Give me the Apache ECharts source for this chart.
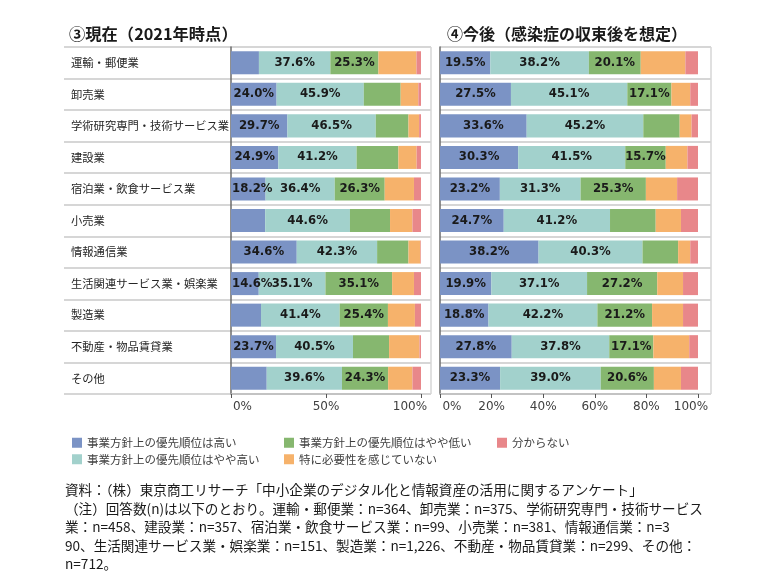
<!DOCTYPE html>
<html>
<head>
<meta charset="utf-8">
<script src="https://cdn.jsdelivr.net/npm/echarts@6/dist/echarts.min.js"></script>
<style>
html,body{margin:0;padding:0;background:#fff;}
#chart{width:768px;height:583px;}
</style>
</head>
<body>
<div id="chart"></div>
<script>
// ---- data ----
const categories = ['運輸・郵便業','卸売業','学術研究専門・技術サービス業','建設業','宿泊業・飲食サービス業','小売業','情報通信業','生活関連サービス業・娯楽業','製造業','不動産・物品賃貸業','その他'];
const seriesNames = ['事業方針上の優先順位は高い','事業方針上の優先順位はやや高い','事業方針上の優先順位はやや低い','特に必要性を感じていない','分からない'];
const titleNow = '③現在（2021年時点）';
const titleFuture = '④今後（感染症の収束後を想定）';
const ticksNow = [0, 50, 100];
const ticksFuture = [0, 20, 40, 60, 80, 100];

const nowHigh     = [14.7,24.0,29.7,24.9,18.2,18.0,34.6,14.6,15.8,23.7,18.8];
const nowMidHigh  = [37.6,45.9,46.5,41.2,36.4,44.6,42.3,35.1,41.4,40.5,39.6];
const nowMidLow   = [25.3,19.4,17.2,22.0,26.3,21.1,16.5,35.1,25.4,19.0,24.3];
const nowNoNeed   = [20.0,9.3,5.6,9.6,15.4,11.8,6.3,11.5,14.2,16.0,12.8];
const nowUnknown  = [2.4,1.4,1.0,2.3,3.7,4.5,0.3,3.7,3.2,0.8,4.5];

const futureHigh    = [19.5,27.5,33.6,30.3,23.2,24.7,38.2,19.9,18.8,27.8,23.3];
const futureMidHigh = [38.2,45.1,45.2,41.5,31.3,41.2,40.3,37.1,42.2,37.8,39.0];
const futureMidLow  = [20.1,17.1,14.1,15.7,25.3,17.7,13.8,27.2,21.2,17.1,20.6];
const futureNoNeed  = [17.3,7.3,4.6,8.4,12.1,9.8,4.7,10.0,12.0,13.9,10.5];
const futureUnknown = [4.9,3.0,2.5,4.1,8.1,6.6,3.0,5.8,5.8,3.4,6.6];

// which segments carry a value label in the source
const nowLabelHigh      = [0,1,1,1,1,0,1,1,0,1,0];
const nowLabelMidHigh   = [1,1,1,1,1,1,1,1,1,1,1];
const nowLabelMidLow    = [1,0,0,0,1,0,0,1,1,0,1];
const futureLabelHigh   = [1,1,1,1,1,1,1,1,1,1,1];
const futureLabelMidHigh= [1,1,1,1,1,1,1,1,1,1,1];
const futureLabelMidLow = [1,1,0,1,1,0,0,1,1,1,1];
const noLabels          = [0,0,0,0,0,0,0,0,0,0,0];

const footnoteLines = [
  '資料：（株）東京商工リサーチ「中小企業のデジタル化と情報資産の活用に関するアンケート」',
  '（注）回答数(n)は以下のとおり。運輸・郵便業：n=364、卸売業：n=375、学術研究専門・技術サービス',
  '業：n=458、建設業：n=357、宿泊業・飲食サービス業：n=99、小売業：n=381、情報通信業：n=3',
  '90、生活関連サービス業・娯楽業：n=151、製造業：n=1,226、不動産・物品賃貸業：n=299、その他：',
  'n=712。'
];

// ---- styling ----
const colors = ['#7b93c5','#a2d1cc','#86b76f','#f6b26b','#e8878a'];
const CJK = '"Noto Sans CJK JP", "Noto Sans", sans-serif';
const NUM = '"DejaVu Sans", Verdana, sans-serif';
const gridLine = '#d6d6d6';
const TOP = 47, BOTTOM = 583 - 394;

const chart = echarts.init(document.getElementById('chart'));

// pxPerUnit: used only to decide whether a first-segment label would spill past the axis
function mkData(vals, flags, first, pxPerUnit) {
  return vals.map((v, i) => {
    const narrow = first && v * pxPerUnit < 44;
    return {
      value: v,
      label: { show: !!flags[i], position: narrow ? 'insideLeft' : 'inside', distance: 1 }
    };
  });
}

const nowSets = [
  [nowHigh, nowLabelHigh], [nowMidHigh, nowLabelMidHigh], [nowMidLow, nowLabelMidLow],
  [nowNoNeed, noLabels], [nowUnknown, noLabels]
];
const futureSets = [
  [futureHigh, futureLabelHigh], [futureMidHigh, futureLabelMidHigh], [futureMidLow, futureLabelMidLow],
  [futureNoNeed, noLabels], [futureUnknown, noLabels]
];

function mkSeries(sets, axisIdx, stackName, pxPerUnit) {
  return sets.map((s, k) => ({
    name: seriesNames[k],
    type: 'bar',
    stack: stackName,
    xAxisIndex: axisIdx,
    yAxisIndex: axisIdx,
    barCategoryGap: '27%',
    itemStyle: { color: colors[k] },
    label: {
      position: 'inside',
      formatter: p => p.value.toFixed(1) + '%',
      color: '#1a1a1a',
      fontFamily: NUM,
      fontWeight: 'bold',
      fontSize: 11.7
    },
    emphasis: { disabled: true },
    data: mkData(s[0], s[1], k === 0, pxPerUnit)
  }));
}

const frameX = (gi) => ({
  gridIndex: gi, type: 'value', min: 0, max: 1, interval: 1,
  axisLine: { show: false }, axisTick: { show: false }, axisLabel: { show: false },
  splitLine: { show: true, showMinLine: false, lineStyle: { color: gridLine, width: 1.5 } }
});
const frameY = (gi, showLabels) => ({
  gridIndex: gi, type: 'category', data: categories, inverse: true,
  axisLine: { show: false }, axisTick: { show: false },
  axisLabel: { show: showLabels, inside: true, margin: 7, color: '#262626', fontFamily: CJK, fontSize: 11.3 },
  splitLine: { show: true, lineStyle: { color: gridLine, width: 1.8 } }
});
const barX = (gi, ticks, lowPad, highPad) => ({
  gridIndex: gi, type: 'value', min: ticks[0], max: ticks[ticks.length - 1],
  interval: ticks[1] - ticks[0],
  axisLine: { show: true, lineStyle: { color: '#bdbdbd', width: 1.5 } },
  axisTick: { show: true, length: 4, lineStyle: { color: '#555' } },
  axisLabel: {
    color: '#404040', fontFamily: NUM, fontSize: 12, margin: 7,
    formatter: v => v === ticks[0] ? '{lo|' + v + '%}' : (v === ticks[ticks.length - 1] ? '{hi|' + v + '%}' : v + '%'),
    rich: {
      lo: { padding: [0, 0, 0, lowPad], color: '#404040', fontFamily: NUM, fontSize: 12 },
      hi: { padding: [0, highPad, 0, 0], color: '#404040', fontFamily: NUM, fontSize: 12 }
    }
  },
  splitLine: { show: false }
});
const barY = (gi) => ({
  gridIndex: gi, type: 'category', data: categories, inverse: true,
  axisLine: { show: true, lineStyle: { color: '#6b6b6b', width: 1.5 } },
  axisTick: { show: false }, axisLabel: { show: false }, splitLine: { show: false }
});

const legendBase = {
  orient: 'vertical', icon: 'rect', itemWidth: 10, itemHeight: 10, itemGap: 5,
  top: 432, selectedMode: false,
  textStyle: { fontFamily: CJK, fontSize: 11.5, color: '#404040' }
};

const option = {
  animation: false,
  backgroundColor: '#fff',
  title: [
    { text: titleNow, left: 64, top: 21, textStyle: { fontFamily: CJK, fontSize: 16.3, fontWeight: 'bold', color: '#1a1a1a' } },
    { text: titleFuture, left: 442, top: 21, textStyle: { fontFamily: CJK, fontSize: 16, fontWeight: 'bold', color: '#1a1a1a' } }
  ],
  legend: [
    Object.assign({}, legendBase, { left: 67, data: [seriesNames[0], seriesNames[1]] }),
    Object.assign({}, legendBase, { left: 279, data: [seriesNames[2], seriesNames[3]] }),
    Object.assign({}, legendBase, { left: 492, data: [seriesNames[4]] })
  ],
  grid: [
    { left: 64, right: 768 - 431, top: TOP, bottom: BOTTOM },
    { left: 231, right: 768 - 421, top: TOP, bottom: BOTTOM },
    { left: 440, right: 768 - 711, top: TOP, bottom: BOTTOM },
    { left: 440, right: 768 - 698, top: TOP, bottom: BOTTOM }
  ],
  xAxis: [frameX(0), barX(1, ticksNow, 23, 22), frameX(2), barX(3, ticksFuture, 24, 14)],
  yAxis: [frameY(0, true), barY(1), frameY(2, false), barY(3)],
  graphic: [{
    type: 'text', left: 65, top: 481,
    style: {
      text: footnoteLines.join('\n'),
      font: '13.6px ' + CJK,
      lineHeight: 18.5,
      fill: '#1a1a1a'
    }
  }],
  series: [].concat(mkSeries(nowSets, 1, 'now', 1.9), mkSeries(futureSets, 3, 'future', 2.58))
};

chart.setOption(option);
</script>
</body>
</html>
